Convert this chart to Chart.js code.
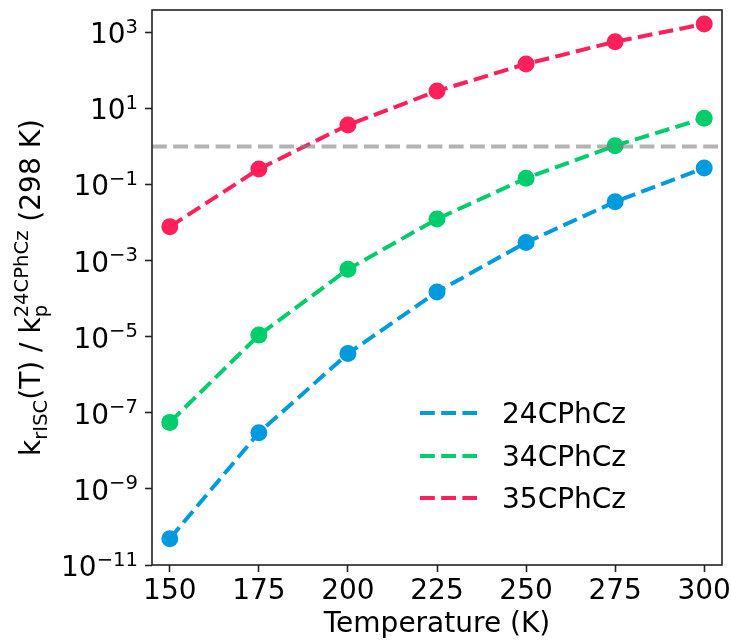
<!DOCTYPE html>
<html>
<head>
<meta charset="utf-8">
<script src="https://cdn.jsdelivr.net/npm/chart.js@4.4.0/dist/chart.umd.min.js"></script>
<style>
  html, body { margin: 0; padding: 0; background: #fff; }
</style>
</head>
<body>
<canvas id="myChart" width="731" height="640"></canvas>
<script>
// temperatures (K) and rISC rate ratios
const temps = [150, 175, 200, 225, 250, 275, 300];
const ratio24 = [4.9e-11, 3.0e-8, 3.6e-6, 1.5e-4, 3.0e-3, 0.035, 0.27];
const ratio34 = [5.6e-8, 1.1e-5, 5.9e-4, 0.0124, 0.146, 1.05, 5.5];
const ratio35 = [7.8e-3, 0.255, 3.66, 28.6, 147, 566, 1650];

const seriesNames = ['24CPhCz', '34CPhCz', '35CPhCz'];
const seriesColors = ['#009ADE', '#00CD6C', '#FF1F5B'];
const seriesValues = [ratio24, ratio34, ratio35];

// horizontal reference at ratio = 1
const refTemps = [145, 305];
const refValues = [1, 1];

// y ticks are odd powers of ten
const yExponents = [-11, -9, -7, -5, -3, -1, 1, 3];

const FONT = 'DejaVu Sans';
const BIG = 28;
const SMALL = 19.6;
const DASH = [14.8, 6.4];

// build the datasets (later series drawn on top, like matplotlib)
const datasets = seriesNames.map((name, i) => ({
  label: name,
  data: temps.map((t, j) => ({ x: t, y: seriesValues[i][j] })),
  borderColor: seriesColors[i],
  backgroundColor: seriesColors[i],
  borderWidth: 4,
  borderDash: DASH,
  borderCapStyle: 'butt',
  pointRadius: 8.5,
  pointHoverRadius: 8.5,
  pointBorderWidth: 0,
  pointBackgroundColor: seriesColors[i],
  tension: 0,
  order: 3 - i
}));

datasets.push({
  label: 'ref',
  data: refTemps.map((t, j) => ({ x: t, y: refValues[j] })),
  borderColor: 'rgba(128,128,128,0.6)',
  borderWidth: 4,
  borderDash: DASH,
  borderCapStyle: 'butt',
  pointRadius: 0,
  order: 0
});

// frame, y tick labels with superscripts, y title and legend
const decorations = {
  id: 'decorations',
  afterDatasetsDraw(chart) {
    const ctx = chart.ctx;
    const a = chart.chartArea;
    ctx.save();
    ctx.strokeStyle = '#222';
    ctx.lineWidth = 1.6;
    ctx.setLineDash([]);
    ctx.strokeRect(a.left, a.top, a.right - a.left, a.bottom - a.top);
    ctx.restore();
  },
  afterDraw(chart) {
    const ctx = chart.ctx;
    const a = chart.chartArea;
    const yScale = chart.scales.y;
    ctx.save();
    ctx.fillStyle = '#000';
    ctx.textBaseline = 'alphabetic';
    ctx.textAlign = 'left';

    // y tick labels: 10^n
    const right = a.left - 14;
    yExponents.forEach(e => {
      const py = yScale.getPixelForValue(Math.pow(10, e));
      const sup = (e < 0 ? '\u2212' : '') + Math.abs(e);
      ctx.font = SMALL + 'px "' + FONT + '"';
      const wSup = ctx.measureText(sup).width;
      ctx.font = BIG + 'px "' + FONT + '"';
      const wBase = ctx.measureText('10').width;
      const xSup = right - wSup;
      ctx.fillText('10', xSup - wBase, py + 11);
      ctx.font = SMALL + 'px "' + FONT + '"';
      ctx.fillText(sup, xSup, py + 0.5);
    });

    // y axis title: k_rISC(T) / k_p^24CPhCz (298 K)
    const parts = [
      { t: 'k', size: BIG, dy: 0 },
      { t: 'rISC', size: SMALL, dy: 7 },
      { t: '(T) / k', size: BIG, dy: 0 },
      { stack: [{ t: 'p', size: SMALL, dy: 7 }, { t: '24CPhCz', size: SMALL, dy: -12 }] },
      { t: ' (298 K)', size: BIG, dy: 0 }
    ];
    const widthOf = p => {
      if (p.stack) {
        return Math.max(...p.stack.map(widthOf));
      }
      ctx.font = p.size + 'px "' + FONT + '"';
      return ctx.measureText(p.t).width;
    };
    const total = parts.reduce((s, p) => s + widthOf(p), 0);
    ctx.translate(40, (a.top + a.bottom) / 2);
    ctx.rotate(-Math.PI / 2);
    let x = -total / 2;
    parts.forEach(p => {
      const items = p.stack ? p.stack : [p];
      items.forEach(it => {
        ctx.font = it.size + 'px "' + FONT + '"';
        ctx.fillText(it.t, x, it.dy);
      });
      x += widthOf(p);
    });
    ctx.restore();

    // legend, lower right, no frame
    ctx.save();
    ctx.font = BIG + 'px "' + FONT + '"';
    ctx.fillStyle = '#000';
    ctx.textBaseline = 'alphabetic';
    const rowY = [a.bottom - 152, a.bottom - 109, a.bottom - 67];
    const lx = a.right - 302;
    seriesNames.forEach((name, i) => {
      ctx.strokeStyle = seriesColors[i];
      ctx.lineWidth = 4;
      ctx.lineCap = 'butt';
      ctx.setLineDash(DASH);
      ctx.beginPath();
      ctx.moveTo(lx, rowY[i]);
      ctx.lineTo(lx + 57, rowY[i]);
      ctx.stroke();
      ctx.fillText(name, lx + 82, rowY[i] + 10);
    });
    ctx.restore();
  }
};

const config = {
  type: 'line',
  data: { datasets: datasets },
  options: {
    responsive: false,
    animation: false,
    events: [],
    layout: { padding: { left: 0, right: 9, top: 10, bottom: 0 } },
    plugins: {
      legend: { display: false },
      tooltip: { enabled: false }
    },
    scales: {
      x: {
        type: 'linear',
        min: 145,
        max: 305,
        afterBuildTicks: s => { s.ticks = temps.map(v => ({ value: v })); },
        afterFit: s => { s.height = 75; s.paddingLeft = 0; s.paddingRight = 0; },
        ticks: {
          color: '#000',
          padding: 2.5,
          maxRotation: 0,
          font: { family: FONT, size: BIG, lineHeight: 1.2 }
        },
        grid: {
          drawOnChartArea: false,
          drawTicks: true,
          tickLength: 7,
          tickWidth: 1.6,
          tickColor: '#222'
        },
        border: { display: false },
        title: {
          display: true,
          text: 'Temperature (K)',
          color: '#000',
          padding: { top: 0, bottom: 0 },
          font: { family: FONT, size: BIG, lineHeight: 1.1 }
        }
      },
      y: {
        type: 'logarithmic',
        bounds: 'data',
        min: 1e-11,
        max: Math.pow(10, 3.586),
        afterBuildTicks: s => { s.ticks = yExponents.map(e => ({ value: Math.pow(10, e) })); },
        afterFit: s => { s.width = 152; s.paddingTop = 0; s.paddingBottom = 0; },
        ticks: { display: false },
        grid: {
          drawOnChartArea: false,
          drawTicks: true,
          tickLength: 7,
          tickWidth: 1.6,
          tickColor: '#222'
        },
        border: { display: false }
      }
    }
  },
  plugins: [decorations]
};

const myChart = new Chart(document.getElementById('myChart'), config);
</script>
</body>
</html>
